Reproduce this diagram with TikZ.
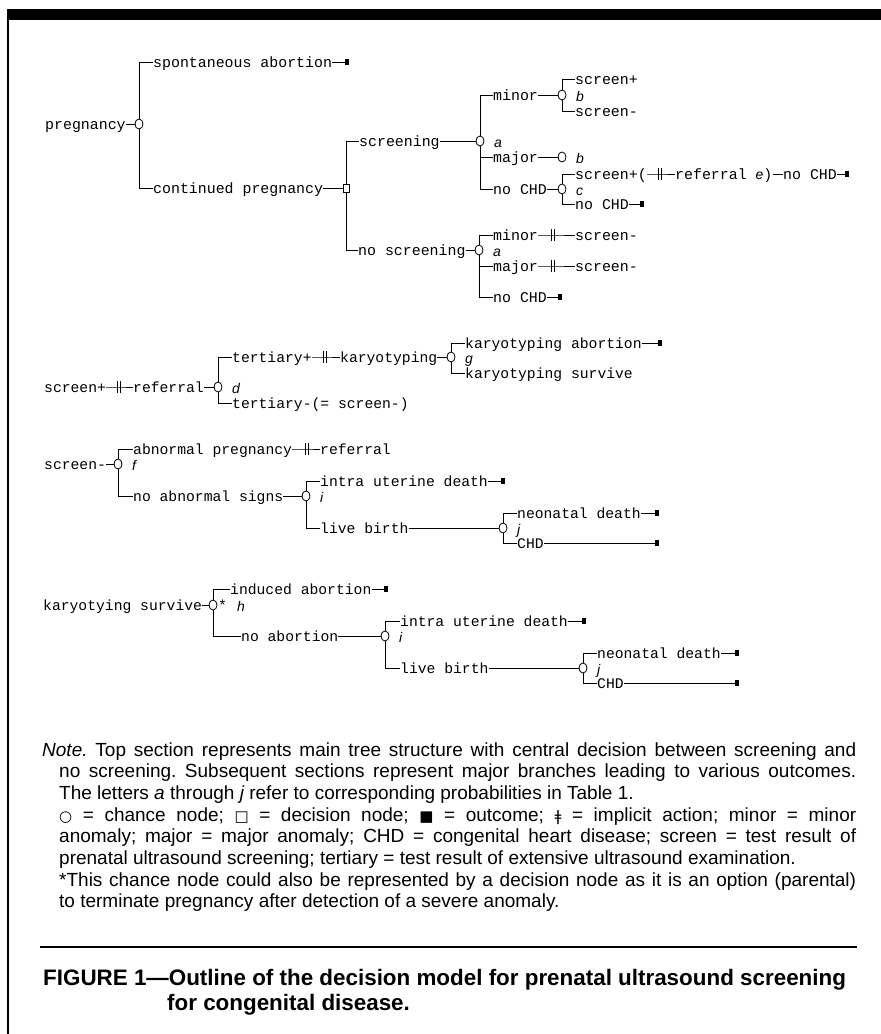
\documentclass[tikz,border=0pt]{standalone}
\usepackage{fontspec}
\setmainfont{Liberation Sans}
\usetikzlibrary{shapes.geometric}
\newfontfamily\monofam{Liberation Mono}
\newfontfamily\sansfam{Liberation Sans}
\newfontfamily\symfam{DejaVu Sans}
\newcommand\tmono{\monofam\fontsize{14.9}{16}\selectfont}
\newcommand\lmono{\monofam\fontsize{14.7}{16}\selectfont}
\newcommand\probfont{\sansfam\itshape\fontsize{14}{16}\selectfont}
\newcommand\notefont{\sansfam\fontsize{19}{21.7}\selectfont}
\newcommand\capfont{\sansfam\bfseries\fontsize{22.4}{25}\selectfont}
\newcommand\symb[1]{{\symfam\fontsize{15}{16}\selectfont #1}}
\tikzset{
  lbl/.style={anchor=west, inner sep=0pt, font=\tmono, text height=12pt, text depth=2pt},
  llbl/.style={lbl, font=\lmono},
  prob/.style={anchor=west, inner sep=0pt, font=\probfont, text height=12pt, text depth=2pt},
  chance/.style={ellipse, draw, line width=0.8pt, minimum width=8pt, minimum height=10pt, inner sep=0pt},
  decision/.style={rectangle, draw, line width=0.8pt, minimum width=6pt, minimum height=8pt, inner sep=0pt},
  outcome/.style={rectangle, fill=black, minimum width=4.5pt, minimum height=6pt, inner sep=0pt},
  implbox/.style={inner sep=0pt, minimum width=3pt, minimum height=12pt},
  conn/.style={line width=0.8pt},
}
\newcommand\implact[2]{\node[implbox] (#1) at (#2) {}; \draw[conn] (#1.north west) -- (#1.south west) (#1.north east) -- (#1.south east);}
\begin{document}
\begin{tikzpicture}[x=1pt,y=-1pt]
\useasboundingbox (0,0) rectangle (881,1034);
% frame
\fill (7,9) rectangle (881,19.5);
\fill (7,9) rectangle (9,1034);

% ===== top section =====
\node[lbl] (preg) at (45,124) {pregnancy};
\node[chance] (c0) at (139,124) {};
\node[lbl] (spont) at (153,62) {spontaneous abortion};
\node[outcome] (o1) at (347,62) {};
\node[lbl] (cont) at (153,188) {continued pregnancy};
\node[decision] (d1) at (346,188) {};
\draw[conn] (preg.east) -- (c0.west);
\draw[conn] (c0.north) |- (spont.west);
\draw[conn] (c0.south) |- (cont.west);
\draw[conn] (spont.east) -- (o1.west);
\draw[conn] (cont.east) -- (d1.west);

\node[lbl] (scr) at (359,141) {screening};
\node[chance] (ca1) at (480,141) {};
\node[prob] (pa1) at (494,142) {a};
\node[lbl] (noscr) at (358,250) {no screening};
\node[chance] (ca2) at (479,250) {};
\node[prob] (pa2) at (493,251) {a};
\draw[conn] (d1.north) |- (scr.west);
\draw[conn] (d1.south) |- (noscr.west);
\draw[conn] (scr.east) -- (ca1.west);
\draw[conn] (noscr.east) -- (ca2.west);

\node[lbl] (min1) at (493,95) {minor};
\node[chance] (cb1) at (562,95) {};
\node[prob] (pb1) at (576,96) {b};
\node[lbl] (sp1) at (575,79) {screen+};
\node[lbl] (sm1) at (575,111) {screen-};
\node[lbl] (maj1) at (493,157) {major};
\node[chance] (cb2) at (562,157) {};
\node[prob] (pb2) at (576,158) {b};
\node[lbl] (nc1) at (493,189) {no CHD};
\node[chance] (cc) at (562,189) {};
\node[prob] (pc) at (576,190) {c};
\node[lbl] (sp2) at (575,174) {screen+(};
\implact{ia1}{660,174}
\node[lbl] (ref1) at (675,174) {referral {\probfont e})};
\node[lbl] (nc2) at (783,174) {no CHD};
\node[outcome] (o2) at (847,174) {};
\node[lbl] (nc3) at (575,204) {no CHD};
\node[outcome] (o3) at (642,204) {};
\draw[conn] (ca1.north) |- (min1.west);
\draw[conn] (ca1.south) |- (maj1.west);
\draw[conn] (ca1.south) |- (nc1.west);
\draw[conn] (min1.east) -- (cb1.west);
\draw[conn] (maj1.east) -- (cb2.west);
\draw[conn] (nc1.east) -- (cc.west);
\draw[conn] (cb1.north) |- (sp1.west);
\draw[conn] (cb1.south) |- (sm1.west);
\draw[conn] (cc.north) |- (sp2.west);
\draw[conn] (cc.south) |- (nc3.west);
\draw[conn] (sp2.east) -- (ia1.center) -- (ref1.west);
\draw[conn] (ref1.east) -- (nc2.west);
\draw[conn] (nc2.east) -- (o2.west);
\draw[conn] (nc3.east) -- (o3.west);

\node[lbl] (min2) at (493,235) {minor};
\implact{ia2}{553,235}
\node[lbl] (sm2) at (575,235) {screen-};
\node[lbl] (maj2) at (493,266) {major};
\implact{ia3}{553,266}
\node[lbl] (sm3) at (575,266) {screen-};
\node[lbl] (nc4) at (493,297) {no CHD};
\node[outcome] (o4) at (560,297) {};
\draw[conn] (ca2.north) |- (min2.west);
\draw[conn] (ca2.south) |- (maj2.west);
\draw[conn] (ca2.south) |- (nc4.west);
\draw[conn] (min2.east) -- (ia2.center) -- (sm2.west);
\draw[conn] (maj2.east) -- (ia3.center) -- (sm3.west);
\draw[conn] (nc4.east) -- (o4.west);

% ===== section 2 =====
\node[llbl] (s2a) at (44,387) {screen+};
\implact{ib1}{119,387}
\node[llbl] (s2b) at (133,387) {referral};
\node[chance] (cd) at (218,387) {};
\node[prob] (pd) at (232,388) {d};
\node[llbl] (t1) at (232,357) {tertiary+};
\implact{ib2}{325,357}
\node[llbl] (kar) at (340,357) {karyotyping};
\node[chance] (cg) at (451,357) {};
\node[prob] (pg) at (465,358) {g};
\node[llbl] (ka) at (465,343) {karyotyping abortion};
\node[outcome] (o5) at (660,343) {};
\node[llbl] (ks) at (465,373) {karyotyping survive};
\node[llbl] (t2) at (232,403) {tertiary-(= screen-)};
\draw[conn] (s2a.east) -- (ib1.center) -- (s2b.west);
\draw[conn] (s2b.east) -- (cd.west);
\draw[conn] (cd.north) |- (t1.west);
\draw[conn] (cd.south) |- (t2.west);
\draw[conn] (t1.east) -- (ib2.center) -- (kar.west);
\draw[conn] (kar.east) -- (cg.west);
\draw[conn] (cg.north) |- (ka.west);
\draw[conn] (cg.south) |- (ks.west);
\draw[conn] (ka.east) -- (o5.west);

% ===== section 3 =====
\node[llbl] (s3a) at (44,464) {screen-};
\node[chance] (cf) at (118,464) {};
\node[prob] (pf) at (132,465) {f};
\node[llbl] (ab) at (133,449) {abnormal pregnancy};
\implact{ic1}{307,449}
\node[llbl] (ref3) at (320,449) {referral};
\node[llbl] (nas) at (133,496) {no abnormal signs};
\node[chance] (ci) at (306,496) {};
\node[prob] (pi) at (320,497) {i};
\node[llbl] (iud) at (320,481) {intra uterine death};
\node[outcome] (o6) at (503,481) {};
\node[llbl] (lb) at (320,528) {live birth};
\node[chance] (cj) at (503,528) {};
\node[prob] (pj) at (517,529) {j};
\node[llbl] (nd) at (517,513) {neonatal death};
\node[outcome] (o7) at (657,513) {};
\node[llbl] (chd) at (517,543) {CHD};
\node[outcome] (o8) at (657,543) {};
\draw[conn] (s3a.east) -- (cf.west);
\draw[conn] (cf.north) |- (ab.west);
\draw[conn] (cf.south) |- (nas.west);
\draw[conn] (ab.east) -- (ic1.center) -- (ref3.west);
\draw[conn] (nas.east) -- (ci.west);
\draw[conn] (ci.north) |- (iud.west);
\draw[conn] (ci.south) |- (lb.west);
\draw[conn] (iud.east) -- (o6.west);
\draw[conn] (lb.east) -- (cj.west);
\draw[conn] (cj.north) |- (nd.west);
\draw[conn] (cj.south) |- (chd.west);
\draw[conn] (nd.east) -- (o7.west);
\draw[conn] (chd.east) -- (o8.west);

% ===== section 4 =====
\node[llbl] (ksv) at (43,605) {karyotying survive};
\node[chance] (ch) at (213,605) {};
\node[llbl] (star) at (218,605) {*};
\node[prob] (ph) at (237,606) {h};
\node[llbl] (ia) at (230,589) {induced abortion};
\node[outcome] (o9) at (386,589) {};
\node[llbl] (na) at (241,636) {no abortion};
\node[chance] (ci2) at (385,636) {};
\node[prob] (pi2) at (399,637) {i};
\node[llbl] (iud2) at (400,621) {intra uterine death};
\node[outcome] (o10) at (584,621) {};
\node[llbl] (lb2) at (400,668) {live birth};
\node[chance] (cj2) at (583,668) {};
\node[prob] (pj2) at (597,669) {j};
\node[llbl] (nd2) at (597,653) {neonatal death};
\node[outcome] (o11) at (737,653) {};
\node[llbl] (chd2) at (597,683) {CHD};
\node[outcome] (o12) at (737,683) {};
\draw[conn] (ksv.east) -- (ch.west);
\draw[conn] (ch.north) |- (ia.west);
\draw[conn] (ch.south) |- (na.west);
\draw[conn] (ia.east) -- (o9.west);
\draw[conn] (na.east) -- (ci2.west);
\draw[conn] (ci2.north) |- (iud2.west);
\draw[conn] (ci2.south) |- (lb2.west);
\draw[conn] (iud2.east) -- (o10.west);
\draw[conn] (lb2.east) -- (cj2.west);
\draw[conn] (cj2.north) |- (nd2.west);
\draw[conn] (cj2.south) |- (chd2.west);
\draw[conn] (nd2.east) -- (o11.west);
\draw[conn] (chd2.east) -- (o12.west);

% ===== note =====
\node[anchor=base west, inner sep=0pt, font=\notefont] (note) at (42,756) {\parbox[t]{814pt}{\notefont\frenchspacing\hangindent=17pt\hangafter=1
{\itshape Note.} Top section represents main tree structure with central decision between screening and\linebreak
no screening. Subsequent sections represent major branches leading to various outcomes.\linebreak
The letters {\itshape a} through {\itshape j} refer to corresponding probabilities in Table 1.\newline
\symb{○} = chance node; \symb{□} = decision node; \symb{■} = outcome; \symb{ǂ} = implicit action; minor = minor\linebreak
anomaly; major = major anomaly; CHD = congenital heart disease; screen = test result of\linebreak
prenatal ultrasound screening; tertiary = test result of extensive ultrasound examination.\newline
*This chance node could also be represented by a decision node as it is an option (parental)\linebreak
to terminate pregnancy after detection of a severe anomaly.}};

\draw[line width=1.3pt] (40,947) -- (857,947);

\node[anchor=base west, inner sep=0pt, font=\capfont] (cap1) at (43,985.5) {FIGURE 1—Outline of the decision model for prenatal ultrasound screening};
\node[anchor=base west, inner sep=0pt, font=\capfont] (cap2) at (167,1010.5) {for congenital disease.};
\end{tikzpicture}
\end{document}
